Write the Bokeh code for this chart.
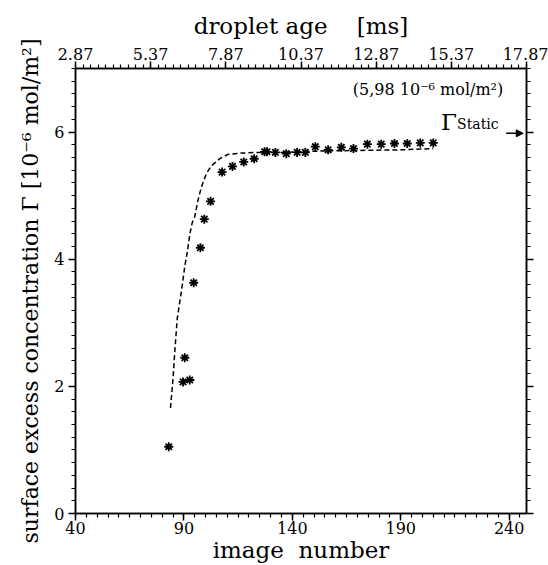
from bokeh.plotting import figure
from bokeh.models import LinearAxis, Range1d, FixedTicker, Label, Arrow, NormalHead
from bokeh.embed import file_html
from bokeh.resources import INLINE

# measured points (image number, surface excess concentration)
image_no = [83.0, 89.6, 92.7, 90.4, 94.5, 97.6, 99.4, 102.3, 107.6, 112.4, 117.6, 122.4,
            127.2, 128.3, 132.2, 137.2, 142.2, 146.0, 150.6, 156.5, 162.6, 168.2, 174.6,
            181.0, 187.1, 193.0, 199.0, 205.0]
gamma = [1.05, 2.07, 2.10, 2.45, 3.63, 4.18, 4.63, 4.91, 5.37, 5.46, 5.53, 5.58,
         5.69, 5.69, 5.68, 5.66, 5.68, 5.68, 5.77, 5.72, 5.76, 5.74, 5.81,
         5.81, 5.82, 5.82, 5.83, 5.83]

# model curve (dashed)
fit_x = [83.8, 85.0, 85.8, 86.9, 88.1, 89.2, 90.4, 91.6, 92.7, 93.8, 95.0, 96.5, 98.1,
         100.4, 102.7, 106.5, 110.4, 116.5, 124.2, 136.3, 151.8, 167.2, 189.3, 205.0]
fit_y = [1.66, 2.13, 2.55, 3.06, 3.33, 3.58, 3.89, 4.12, 4.39, 4.57, 4.67, 4.93, 5.14,
         5.35, 5.47, 5.58, 5.65, 5.67, 5.68, 5.68, 5.70, 5.71, 5.72, 5.74]

gamma_static = 5.98

bottom_ticks = [40, 90, 140, 190, 240]
left_ticks = [0, 2, 4, 6]
top_ticks = [2.87, 5.37, 7.87, 10.37, 12.87, 15.37, 17.87]
top_labels = ["2.87", "5.37", "7.87", "10.37", "12.87", "15.37", "17.87"]

SERIF = "DejaVu Serif"

p = figure(width=548, height=565, x_range=Range1d(40, 248), y_range=Range1d(0, 7),
           output_backend="svg", toolbar_location=None,
           min_border_left=75, min_border_right=22, min_border_top=68, min_border_bottom=48)
p.grid.visible = False
p.outline_line_color = "black"
p.outline_line_width = 1.5
p.background_fill_color = "white"
p.border_fill_color = "white"

p.extra_x_ranges = {"age": Range1d(2.87, 17.87)}
top_axis = LinearAxis(x_range_name="age")
right_axis = LinearAxis()
p.add_layout(top_axis, "above")
p.add_layout(right_axis, "right")

bx = p.below[0]
ly = p.left[0]

minor_y = [round(i * 0.2, 2) for i in range(0, 36)]
bx.ticker = FixedTicker(ticks=bottom_ticks, minor_ticks=list(range(40, 250, 5)))
ly.ticker = FixedTicker(ticks=left_ticks, minor_ticks=minor_y)
right_axis.ticker = FixedTicker(ticks=left_ticks, minor_ticks=minor_y)
top_axis.ticker = FixedTicker(ticks=top_ticks,
                              minor_ticks=[round(2.87 + 0.25 * i, 2) for i in range(0, 61)])
top_axis.major_label_overrides = {t: l for t, l in zip(top_ticks, top_labels)}

for ax in (bx, ly, right_axis, top_axis):
    ax.axis_line_color = "black"
    ax.axis_line_width = 1.5
    ax.major_tick_line_color = "black"
    ax.minor_tick_line_color = "black"
    ax.major_tick_line_width = 1.5
    ax.minor_tick_line_width = 1.2
    ax.major_tick_in = 0
    ax.minor_tick_in = 0
    ax.major_tick_out = 7
    ax.minor_tick_out = 4
    ax.major_label_text_font = SERIF
    ax.major_label_text_font_size = "16px"
    ax.major_label_text_color = "black"
    ax.axis_label_text_font = SERIF
    ax.axis_label_text_font_style = "normal"
    ax.axis_label_text_color = "black"

right_axis.major_label_text_font_size = "0px"
right_axis.major_label_text_color = None

bx.axis_label = "image\u00a0\u00a0number"
bx.axis_label_text_font_size = "23px"
bx.axis_label_standoff = 0
bx.major_label_standoff = 1

top_axis.axis_label = "droplet age\u00a0\u00a0\u00a0\u00a0[ms]"
top_axis.axis_label_text_font_size = "23px"
top_axis.axis_label_standoff = 6
top_axis.major_label_standoff = 2

ly.axis_label = "surface excess concentration \u0393 [10\u207b\u2076 mol/m\u00b2]"
ly.axis_label_text_font_size = "22px"
ly.axis_label_standoff = 8
ly.major_label_standoff = 4

p.line(fit_x, fit_y, line_color="black", line_width=1.5, line_dash="5 3")
p.scatter(image_no, gamma, marker="asterisk", size=9, line_color="black", line_width=1.8)

p.add_layout(Label(x=202.6, y=6.67, text="(5,98 10\u207b\u2076 mol/m\u00b2)",
                   text_font=SERIF, text_font_size="16px", text_align="center",
                   text_baseline="middle", text_color="black"))
p.add_layout(Label(x=208.6, y=6.16, text="\u0393", text_font=SERIF,
                   text_font_size="23px", text_baseline="alphabetic", text_color="black"))
p.add_layout(Label(x=216.0, y=6.13, text="Static", text_font=SERIF,
                   text_font_size="14px", text_baseline="alphabetic", text_color="black"))
p.add_layout(Arrow(x_start=238.6, y_start=gamma_static, x_end=246.5, y_end=gamma_static,
                   line_width=1.5, line_color="black",
                   end=NormalHead(size=7, fill_color="black", line_color="black")))

open("out.html", "w").write(file_html(p, INLINE))
